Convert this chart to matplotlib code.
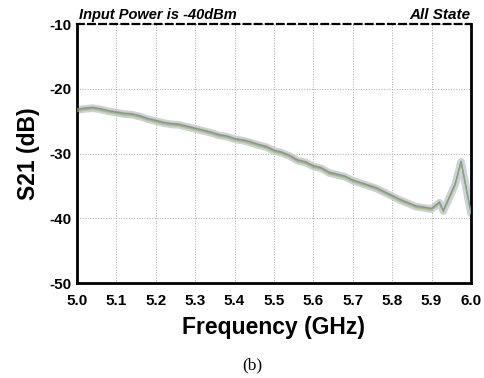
import numpy as np
import matplotlib
matplotlib.use('Agg')
import matplotlib.pyplot as plt

# frequency grid (GHz) and typical S21 trace
freq = [5.00, 5.02, 5.04, 5.06, 5.08, 5.10, 5.12, 5.14, 5.16, 5.18,
        5.20, 5.22, 5.24, 5.26, 5.28, 5.30, 5.32, 5.34, 5.36, 5.38,
        5.40, 5.42, 5.44, 5.46, 5.48, 5.50, 5.52, 5.54, 5.56, 5.58,
        5.60, 5.62, 5.64, 5.66, 5.68, 5.70, 5.72, 5.74, 5.76, 5.78,
        5.80, 5.82, 5.84, 5.86, 5.88, 5.90, 5.92, 5.93, 5.96, 5.975, 6.00]
s21 = [-23.3, -23.1, -23.0, -23.2, -23.5, -23.7, -23.9, -24.0, -24.3, -24.7,
       -25.0, -25.3, -25.5, -25.6, -25.9, -26.2, -26.5, -26.8, -27.2, -27.4,
       -27.8, -28.0, -28.3, -28.7, -29.0, -29.6, -29.9, -30.4, -31.1, -31.4,
       -32.0, -32.3, -33.0, -33.3, -33.6, -34.2, -34.6, -35.0, -35.4, -36.0,
       -36.6, -37.2, -37.7, -38.2, -38.4, -38.6, -37.6, -38.9, -34.8, -31.3, -39.2]

# small spread between the switch states (dB)
state_offsets = [0.0, 0.15, -0.12, 0.25, -0.2, 0.08, -0.05, 0.18, -0.25, 0.1]
state_colors = ['#1f77b4', '#ff7f0e', '#2ca02c', '#ffbb78', '#aec7e8',
                '#8c564b', '#e6a86a', '#7f7f7f', '#bcbd22', '#17becf']

x_ticks = [5.0, 5.1, 5.2, 5.3, 5.4, 5.5, 5.6, 5.7, 5.8, 5.9, 6.0]
y_ticks = [-50, -40, -30, -20, -10]

plt.rcParams['font.family'] = ['Liberation Sans', 'DejaVu Sans']

fig = plt.figure(figsize=(4.85, 3.78), dpi=100)
ax = fig.add_axes([0.1588, 0.2513, 0.8122, 0.6852])

f = np.array(freq)
base = np.array(s21)
# light envelope behind the traces
ax.plot(f, base, color='#c3cad4', lw=5.5, alpha=0.85, zorder=2, solid_capstyle='round')
for off, c in zip(state_offsets, state_colors):
    ax.plot(f, base + off, color=c, lw=0.7, alpha=0.4, zorder=3)

ax.set_xlim(5.0, 6.0)
ax.set_ylim(-50, -10)
ax.set_xticks(x_ticks)
ax.set_yticks(y_ticks)
ax.set_xticklabels(['%.1f' % v for v in x_ticks], fontweight='bold', fontsize=11)
ax.set_yticklabels([str(v) for v in y_ticks], fontweight='bold', fontsize=11)
ax.tick_params(axis='x', length=0, pad=8)
ax.tick_params(axis='y', length=0, pad=4)
ax.grid(True, color='#aaaaaa', linestyle=':', linewidth=0.7)

for side in ['left', 'right', 'bottom']:
    ax.spines[side].set_linewidth(2)
    ax.spines[side].set_color('black')
ax.spines['top'].set_linestyle((0, (3, 2)))
ax.spines['top'].set_linewidth(1.6)

ax.set_xlabel('Frequency (GHz)', fontsize=16.5, fontweight='bold', labelpad=6)
ax.set_ylabel('S21 (dB)', fontsize=16.5, fontweight='bold', labelpad=7)

ax.text(0.005, 1.008, 'Input Power is -40dBm', transform=ax.transAxes, ha='left', va='bottom',
        fontsize=10.5, fontweight='bold', fontstyle='italic')
ax.text(1.0, 1.008, 'All State', transform=ax.transAxes, ha='right', va='bottom',
        fontsize=11, fontweight='bold', fontstyle='italic')

fig.text(0.52, 0.033, '(b)', ha='center', va='center', fontsize=12.5, family='Liberation Serif')

fig.savefig('out.png', dpi=100)
